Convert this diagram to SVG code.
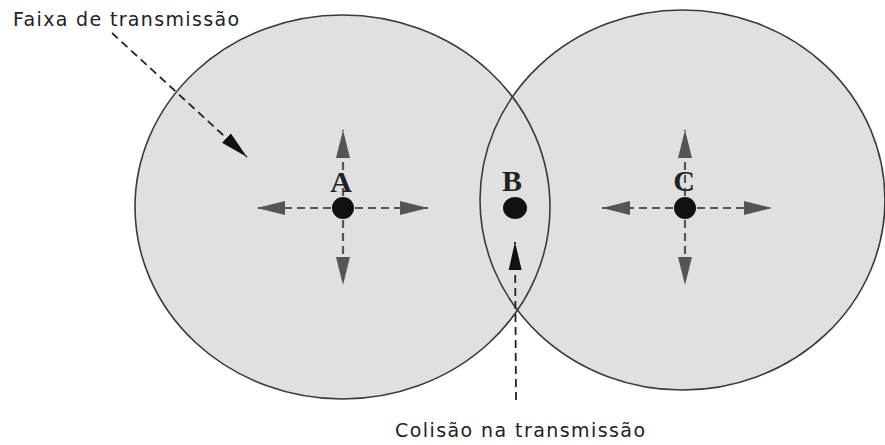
<svg xmlns="http://www.w3.org/2000/svg" width="885" height="445" viewBox="0 0 885 445">
  <style>
    .range { fill: #e0e0e0; stroke: none; }
    .rim { fill: none; stroke: #3a3a3a; stroke-width: 1.6; }
    .dot { fill: #111; }
    .lbl { font-family: "Liberation Serif", "Times New Roman", serif; font-weight: bold; font-size: 30px; fill: #222; text-anchor: middle; }
    .note { font-family: "DejaVu Sans", "Liberation Sans", sans-serif; font-size: 19px; fill: #222; }
    .ray { stroke: #555; stroke-width: 2.2; stroke-dasharray: 8 5; fill: none; marker-end: url(#gh); }
    .ann { stroke: #222; stroke-width: 1.8; stroke-dasharray: 8 5; fill: none; marker-end: url(#bh); }
  </style>
  <defs>
    <marker id="gh" markerUnits="userSpaceOnUse" markerWidth="28" markerHeight="16" viewBox="0 0 28 16" refX="28" refY="8" orient="auto">
      <path d="M0,1 L28,8 L0,15 Z" fill="#555"/>
    </marker>
    <marker id="bh" markerUnits="userSpaceOnUse" markerWidth="28" markerHeight="16" viewBox="0 0 28 16" refX="28" refY="8" orient="auto">
      <path d="M0,1.5 L28,8 L0,14.5 Z" fill="#111"/>
    </marker>
  </defs>
  <rect width="885" height="445" fill="#ffffff"/>

  <g id="ranges">
    <ellipse class="range" cx="342.5" cy="207" rx="207.5" ry="192"/>
    <ellipse class="range" cx="682.5" cy="200" rx="202.5" ry="190"/>
    <ellipse class="rim" cx="342.5" cy="207" rx="207.5" ry="192"/>
    <ellipse class="rim" cx="682.5" cy="200" rx="202.5" ry="190"/>
  </g>

  <g id="connectors">
    <line class="ray" x1="331" y1="208" x2="257" y2="208"/>
    <line class="ray" x1="355" y1="208" x2="428" y2="208"/>
    <line class="ray" x1="343" y1="196" x2="343" y2="130"/>
    <line class="ray" x1="343" y1="220" x2="343" y2="285"/>
    <line class="ray" x1="673" y1="208" x2="602" y2="208"/>
    <line class="ray" x1="697" y1="208" x2="772" y2="208"/>
    <line class="ray" x1="685" y1="196" x2="685" y2="130"/>
    <line class="ray" x1="685" y1="220" x2="685" y2="285"/>
    <line class="ann" x1="112" y1="33" x2="247" y2="157"/>
    <line class="ann" x1="516" y1="400" x2="515" y2="242"/>
  </g>

  <g id="node-A">
    <circle class="dot" cx="343" cy="208" r="11"/>
    <text class="lbl" x="341" y="192">A</text>
  </g>
  <g id="node-B">
    <ellipse class="dot" cx="515" cy="208" rx="12" ry="11"/>
    <text class="lbl" x="512" y="191">B</text>
  </g>
  <g id="node-C">
    <circle class="dot" cx="685" cy="208" r="11"/>
    <text class="lbl" x="684" y="191">C</text>
  </g>

  <g id="labels">
    <text class="note" x="13" y="26" textLength="226" lengthAdjust="spacing">Faixa de transmissão</text>
    <text class="note" x="395" y="437" textLength="250" lengthAdjust="spacing">Colisão na transmissão</text>
  </g>
</svg>
